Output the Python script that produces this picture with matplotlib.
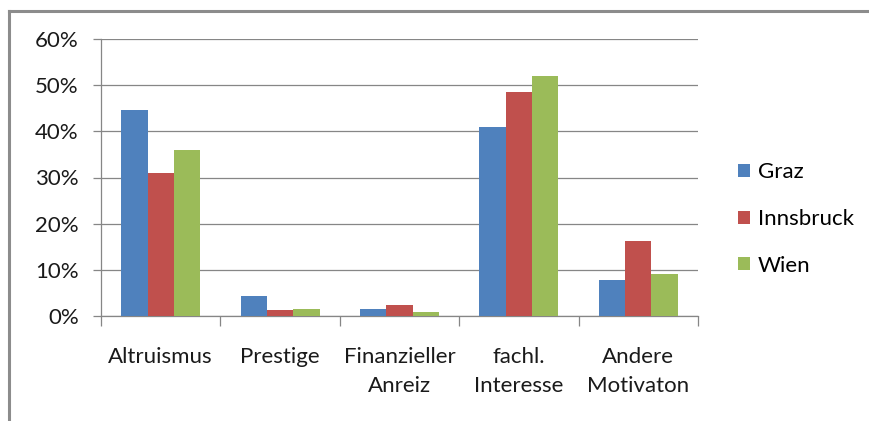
import numpy as np
import matplotlib.pyplot as plt
from matplotlib.lines import Line2D

categories = ["Altruismus", "Prestige", "Finanzieller\nAnreiz", "fachl.\nInteresse", "Andere\nMotivaton"]
graz = [44.6, 4.4, 1.6, 40.9, 7.9]
innsbruck = [31.0, 1.3, 2.4, 48.5, 16.2]
wien = [36.0, 1.5, 0.8, 52.0, 9.2]
series = ["Graz", "Innsbruck", "Wien"]
colors = ["#4f81bd", "#c0504d", "#9bbb59"]
yticks = [0, 10, 20, 30, 40, 50, 60]

plt.rcParams['font.family'] = ['Lato', 'DejaVu Sans']
grey = "#868686"
fs = 16

fig = plt.figure(figsize=(8.69, 4.21), dpi=100)
ax = fig.add_axes([101 / 869, 1 - 316 / 421, 597 / 869, 277 / 421])

x = np.arange(len(categories))
w = 0.22
for i, (vals, name) in enumerate(zip([graz, innsbruck, wien], series)):
    ax.bar(x + (i - 1) * w, vals, w, color=colors[i], label=name, zorder=3)

ax.set_xlim(-0.5, len(categories) - 0.5)
ax.set_ylim(0, 60)
ax.set_yticks(yticks)
ax.set_yticklabels([f"{t}%" for t in yticks], fontsize=fs, color="#1a1a1a")
ax.yaxis.grid(True, color=grey, linewidth=0.9, zorder=0)
ax.tick_params(axis='y', length=6, color=grey, width=0.9, pad=10)

ax.set_xticks(x)
ax.set_xticklabels(categories, fontsize=fs, color="#1a1a1a", linespacing=1.6)
ax.tick_params(axis='x', length=0, pad=22)
ax.set_xticks(np.arange(len(categories) + 1) - 0.5, minor=True)
ax.tick_params(axis='x', which='minor', length=7, color=grey, width=0.9)

for s in ['top', 'right']:
    ax.spines[s].set_visible(False)
for s in ['left', 'bottom']:
    ax.spines[s].set_color(grey)
    ax.spines[s].set_linewidth(0.9)

fig.legend(loc='center left', bbox_to_anchor=(738 / 869, 1 - 219 / 421), frameon=False, fontsize=fs,
           handlelength=0.54, handleheight=0.54, handletextpad=0.36, labelspacing=1.2,
           borderpad=0, borderaxespad=0)

# chart frame (top and left edges only visible)
fig.add_artist(Line2D([9 / 869, 9 / 869], [0, 1 - 11 / 421], color="#8c8c8c", linewidth=2.2,
                      transform=fig.transFigure))
fig.add_artist(Line2D([9 / 869, 1], [1 - 11 / 421, 1 - 11 / 421], color="#8c8c8c", linewidth=2.2,
                      transform=fig.transFigure))

plt.savefig("out.png", dpi=100)
